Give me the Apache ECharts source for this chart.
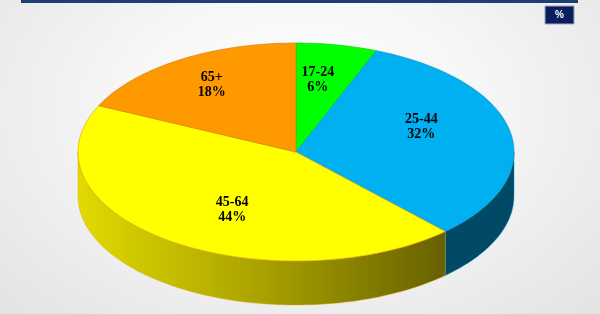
<!DOCTYPE html>
<html>
<head>
<meta charset="utf-8">
<script src="https://cdn.jsdelivr.net/npm/echarts@6/dist/echarts.min.js"></script>
<style>
html,body{margin:0;padding:0;}
#c{width:600px;height:314px;background:radial-gradient(ellipse at 50% 35%, #ffffff 0%, #f7f7f7 40%, #e3e3e3 100%);}
</style>
</head>
<body>
<div id="c"></div>
<script>
// Data
var categories = ['17-24', '25-44', '45-64', '65+'];
var values = [6, 32, 44, 18];
var percentLabels = ['6%', '32%', '44%', '18%'];
var topColors = ['#00FF00', '#00B0F0', '#FFFF00', '#FF9900'];
var edgeColors = ['#00c800', '#0090c8', '#e0a000', '#d07800'];

// Layout
var CX = 296, CY = 152, RX = 218, RY = 109, DEPTH = 44;
var labelRadius = [0.67, 0.62, 0.61, 0.73];
var labelAngleShift = [-2.2, -11.2, -7.3, 0.4];

var total = values.reduce(function (a, b) { return a + b; }, 0);
var starts = [];
var acc = 0;
for (var i = 0; i < values.length; i++) { starts.push(acc); acc += values[i]; }

function pt(deg, dy) {
  var r = deg * Math.PI / 180;
  return [CX + RX * Math.sin(r), CY - RY * Math.cos(r) + (dy || 0)];
}
function sideFill(idx) {
  if (idx === 2) {
    return new echarts.graphic.LinearGradient(78, 0, 445, 0, [
      { offset: 0, color: '#e2da00' },
      { offset: 0.5, color: '#a9a200' },
      { offset: 1, color: '#666100' }
    ], true);
  }
  if (idx === 1) return '#004a66';
  if (idx === 0) return '#006600';
  return '#8a5200';
}

var chart = echarts.init(document.getElementById('c'), null, { renderer: 'canvas' });
chart.setOption({
  animation: false,
  graphic: [
    { type: 'rect', shape: { x: 21, y: 0, width: 557, height: 3 }, style: { fill: '#1c3f75' }, z: 10 },
    { type: 'rect', shape: { x: 545, y: 6, width: 29, height: 18 }, style: { fill: '#0a1e5e', stroke: '#9aa6c4', lineWidth: 1 }, z: 10 },
    { type: 'text', x: 559.5, y: 15, style: { text: '%', fill: '#ffffff', font: 'bold 10px "Liberation Sans", Arial', align: 'center', verticalAlign: 'middle' }, z: 11 }
  ],
  series: [{
    type: 'custom',
    coordinateSystem: 'none',
    data: values.map(function (v, i) { return [v, i]; }),
    renderItem: function (params, api) {
      var idx = params.dataIndex;
      var v = api.value(0);
      var a0 = starts[idx] / total * 360;
      var a1 = a0 + v / total * 360;
      var children = [];
      // side wall (front-facing part only)
      var s0 = Math.max(a0, 90), s1 = Math.min(a1, 270);
      if (s1 > s0) {
        var sp = [];
        var n = Math.max(8, Math.ceil((s1 - s0) / 1.5));
        for (var k = 0; k <= n; k++) sp.push(pt(s0 + (s1 - s0) * k / n, 0));
        for (var k2 = n; k2 >= 0; k2--) sp.push(pt(s0 + (s1 - s0) * k2 / n, DEPTH));
        children.push({ type: 'polygon', shape: { points: sp }, style: { fill: sideFill(idx), stroke: edgeColors[idx], lineWidth: 0.4 }, z2: 1 });
      }
      // top face
      var tp = [[CX, CY]];
      var m = Math.max(8, Math.ceil((a1 - a0) / 1.5));
      for (var j = 0; j <= m; j++) tp.push(pt(a0 + (a1 - a0) * j / m, 0));
      children.push({ type: 'polygon', shape: { points: tp }, style: { fill: topColors[idx], stroke: edgeColors[idx], lineWidth: 0.6 }, z2: 2 });
      // label
      var mid = (a0 + a1) / 2 + labelAngleShift[idx];
      var r = mid * Math.PI / 180;
      var f = labelRadius[idx];
      var lx = CX + RX * f * Math.sin(r);
      var ly = CY - RY * f * Math.cos(r);
      children.push({ type: 'text', x: lx, y: ly, z2: 3, style: {
        text: categories[idx] + '\n' + percentLabels[idx], fill: '#000',
        font: 'bold 14px "Liberation Serif", "Times New Roman", serif',
        align: 'center', verticalAlign: 'middle', lineHeight: 15 } });
      return { type: 'group', children: children };
    }
  }]
});
</script>
</body>
</html>
